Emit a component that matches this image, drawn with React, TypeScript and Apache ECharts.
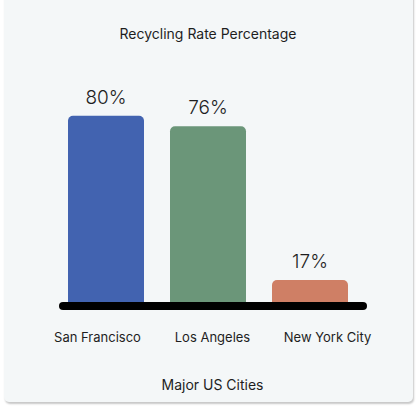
import React, { useEffect, useRef } from "react";
import * as echarts from "echarts";

const categories = ["San Francisco", "Los Angeles", "New York City"];
const values = [80, 76, 17];
const barColors = ["#4263b0", "#6b9679", "#cf7f65"];
const titleText = "Recycling Rate Percentage";
const axisTitle = "Major US Cities";

export default function App() {
  const ref = useRef<HTMLDivElement>(null);
  useEffect(() => {
    document.body.style.margin = "0";
    if (!ref.current) return;
    const chart = echarts.init(ref.current, undefined, { renderer: "svg" });
    const font = "Inter, 'DejaVu Sans', sans-serif";
    const top = 63.6;
    const height = 242.6;
    chart.setOption({
      animation: false,
      title: {
        text: titleText,
        left: "center",
        top: 21,
        textStyle: { fontFamily: font, fontSize: 14, fontWeight: 400, color: "#1e1e1e" },
      },
      grid: [
        { left: 55, width: 306, top, height },
        { left: 63, width: 300, top, height },
        { left: 40, width: 345, top, height },
      ],
      xAxis: [
        {
          gridIndex: 0,
          type: "category",
          data: categories,
          axisLine: { show: false },
          axisTick: { show: false },
          axisLabel: { show: false },
        },
        {
          gridIndex: 1,
          type: "category",
          data: categories,
          axisLine: { show: true, lineStyle: { color: "#000", width: 8, cap: "round" } },
          axisTick: { show: false },
          axisLabel: { show: false },
          z: 5,
        },
        {
          gridIndex: 2,
          type: "category",
          data: categories,
          axisLine: { show: false },
          axisTick: { show: false },
          axisLabel: {
            margin: 24,
            fontFamily: font,
            fontSize: 13,
            color: "#1e1e1e",
          },
          name: axisTitle,
          nameLocation: "middle",
          nameGap: 71,
          nameTextStyle: { fontFamily: font, fontSize: 14, color: "#1e1e1e" },
        },
      ],
      yAxis: [
        { gridIndex: 0, type: "value", min: 7, max: 100, show: false },
        { gridIndex: 1, type: "value", min: 0, max: 100, show: false },
        { gridIndex: 2, type: "value", min: 0, max: 100, show: false },
      ],
      series: [
        {
          type: "bar",
          xAxisIndex: 0,
          yAxisIndex: 0,
          barWidth: 76,
          data: values.map((v, i) => ({ value: v, itemStyle: { color: barColors[i] } })),
          itemStyle: { borderRadius: [5, 5, 0, 0] },
          label: {
            show: true,
            position: "top",
            distance: 9,
            formatter: "{c}%",
            fontFamily: font,
            fontSize: 19,
            fontWeight: 300,
            color: "#1e1e1e",
          },
        },
      ],
    });
    return () => chart.dispose();
  }, []);
  return (
    <div style={{ position: "relative", width: 416, height: 409, background: "#fff", overflow: "hidden" }}>
      <div
        style={{
          position: "absolute",
          left: 4,
          top: -10,
          width: 409,
          height: 412,
          background: "#f4f7f8",
          borderRadius: 5,
          boxShadow: "1px 2px 2px rgba(0,0,0,0.22)",
        }}
      />
      <div ref={ref} style={{ position: "absolute", left: 0, top: 0, width: 416, height: 409 }} />
    </div>
  );
}
